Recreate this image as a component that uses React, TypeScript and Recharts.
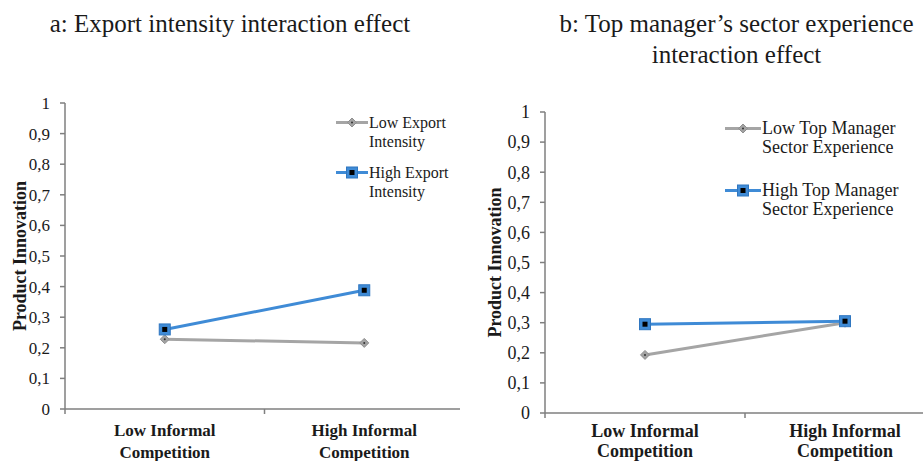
import React from 'react';
import { LineChart, Line, XAxis, YAxis, Legend } from 'recharts';

// categories on the x axis, shared by both panels
const categories = ['Low Informal Competition', 'High Informal Competition'];
const yTicks = [0, 0.1, 0.2, 0.3, 0.4, 0.5, 0.6, 0.7, 0.8, 0.9, 1];
// integer ticks are the small category separators, the halves carry the labels
const xTicks = [0, 0.5, 1, 1.5, 2];

// panel a
const exportLow = [0.228, 0.216];
const exportHigh = [0.26, 0.388];
const exportNames = ['Low Export Intensity', 'High Export Intensity'];
const titleA = ['a: Export intensity interaction effect'];

// panel b
const managerLow = [0.193, 0.3];
const managerHigh = [0.295, 0.305];
const managerNames = ['Low Top Manager Sector Experience', 'High Top Manager Sector Experience'];
const titleB = ['b: Top manager\u2019s sector experience', 'interaction effect'];

const yTitle = 'Product Innovation';

const FONT = 'Liberation Serif, DejaVu Serif, serif';
const AXIS = '#7f7f7f';
const TEXT = '#1a1a1a';
const GRAY = '#a5a5a5';
const BLUE = '#3f8bd6';

const fmt = (v: number) => String(v).replace('.', ',');

const splitLabel = (s: string) => {
  const i = s.lastIndexOf(' ');
  return [s.slice(0, i), s.slice(i + 1)];
};

const Diamond = (props: any) => {
  const { cx, cy } = props;
  if (cx == null || cy == null) return null;
  const r = 4.5;
  return (
    <g>
      <path d={`M${cx},${cy - r}L${cx + r},${cy}L${cx},${cy + r}L${cx - r},${cy}Z`} fill="#a3a3a3" stroke="#8f8f8f" strokeWidth={1} />
      <circle cx={cx} cy={cy} r={1} fill="#333" />
    </g>
  );
};

const Square = (props: any) => {
  const { cx, cy } = props;
  if (cx == null || cy == null) return null;
  return (
    <g>
      <rect x={cx - 5.5} y={cy - 5.5} width={11} height={11} fill={BLUE} stroke="#2f76c0" strokeWidth={1} />
      <rect x={cx - 2.5} y={cy - 2.5} width={5} height={5} fill="#000" />
    </g>
  );
};

type Cfg = {
  chartWidth: number;
  boxWidth: number;
  left: number;
  titlePad: number;
  top: number;
  yAxisWidth: number;
  right: number;
  xHeight: number;
  tickFont: number;
  xFont: number;
  xLine1: number;
  xLine2: number;
  yTitleX: number;
  legendLeft: number;
  legendTop: number;
  legendFont: number;
  legendLine: number;
  legendGap: number;
  legendIcon: number;
  legendTextWidth: number;
};

const XTick = (props: any) => {
  const { x, y, payload, cfg } = props;
  const v = payload.value as number;
  if (Number.isInteger(v)) {
    return <line x1={x} x2={x} y1={y} y2={y + 5} stroke={AXIS} strokeWidth={1.5} />;
  }
  const lines = splitLabel(categories[Math.floor(v)]);
  return (
    <g>
      <text x={x} y={y + cfg.xLine1} textAnchor="middle" fontFamily={FONT} fontWeight="bold" fontSize={cfg.xFont} fill={TEXT}>
        {lines[0]}
      </text>
      <text x={x} y={y + cfg.xLine2} textAnchor="middle" fontFamily={FONT} fontWeight="bold" fontSize={cfg.xFont} fill={TEXT}>
        {lines[1]}
      </text>
    </g>
  );
};

function Panel({ low, high, names, title, cfg }: { low: number[]; high: number[]; names: string[]; title: string[]; cfg: Cfg }) {
  const data = categories.map((c, i) => ({ pos: i + 0.5, category: c, low: low[i], high: high[i] }));

  const renderLegend = (props: any) => {
    const payload = props.payload || [];
    const w = cfg.legendIcon;
    const h = cfg.legendLine;
    return (
      <div style={{ fontFamily: FONT, fontSize: cfg.legendFont, color: TEXT, lineHeight: `${h}px` }}>
        {payload.map((entry: any, i: number) => (
          <div key={i} style={{ display: 'flex', alignItems: 'flex-start', marginBottom: i < payload.length - 1 ? cfg.legendGap : 0 }}>
            <svg width={w} height={h} style={{ flex: 'none' }}>
              <line x1={0} x2={w} y1={h / 2} y2={h / 2} stroke={entry.color} strokeWidth={3} />
              {entry.dataKey === 'low' ? <Diamond cx={w / 2} cy={h / 2} /> : <Square cx={w / 2} cy={h / 2} />}
            </svg>
            <div style={{ width: cfg.legendTextWidth, paddingLeft: 1 }}>{entry.value}</div>
          </div>
        ))}
      </div>
    );
  };

  const renderYTitle = (props: any) => {
    const vb = props.viewBox || {};
    const x = vb.x + cfg.yTitleX;
    const y = vb.y + vb.height / 2;
    return (
      <text x={x} y={y} transform={`rotate(-90 ${x} ${y})`} textAnchor="middle" dominantBaseline="central" fontFamily={FONT} fontWeight="bold" fontSize={18} fill={TEXT}>
        {yTitle}
      </text>
    );
  };

  return (
    <div style={{ position: 'absolute', left: cfg.left, top: 0, width: cfg.boxWidth, height: 461, overflow: 'hidden' }}>
      <div
        style={{
          position: 'absolute',
          left: 0,
          top: 8,
          width: '100%',
          textAlign: 'center',
          fontFamily: FONT,
          fontSize: 25,
          lineHeight: '31px',
          color: TEXT,
          paddingLeft: cfg.titlePad,
          boxSizing: 'border-box',
        }}
      >
        {title.map((t, i) => (
          <div key={i}>{t}</div>
        ))}
      </div>
      <LineChart width={cfg.chartWidth} height={461} data={data} margin={{ top: cfg.top, right: cfg.right, left: 0, bottom: 0 }}>
        <XAxis
          type="number"
          dataKey="pos"
          domain={[0, categories.length]}
          ticks={xTicks}
          interval={0}
          tickLine={false}
          tickSize={0}
          tickMargin={0}
          height={cfg.xHeight}
          axisLine={{ stroke: AXIS, strokeWidth: 1.5 }}
          tick={<XTick cfg={cfg} />}
        />
        <YAxis
          type="number"
          domain={[0, 1]}
          ticks={yTicks}
          interval={0}
          width={cfg.yAxisWidth}
          tickFormatter={fmt}
          tickSize={5}
          tickMargin={10}
          tickLine={{ stroke: AXIS, strokeWidth: 1.5 }}
          axisLine={{ stroke: AXIS, strokeWidth: 1.5 }}
          tick={{ fontFamily: FONT, fontSize: cfg.tickFont, fill: TEXT }}
          label={{ content: renderYTitle }}
        />
        <Legend
          layout="vertical"
          align="center"
          verticalAlign="middle"
          content={renderLegend}
          itemSorter={(item: any) => names.indexOf(item.value)}
          wrapperStyle={{ left: cfg.legendLeft, top: cfg.legendTop, width: 'auto' }}
        />
        <Line
          type="linear"
          dataKey="low"
          name={names[0]}
          stroke={GRAY}
          strokeWidth={3}
          dot={<Diamond />}
          activeDot={false}
          isAnimationActive={false}
        />
        <Line
          type="linear"
          dataKey="high"
          name={names[1]}
          stroke={BLUE}
          strokeWidth={3}
          dot={<Square />}
          activeDot={false}
          isAnimationActive={false}
        />
      </LineChart>
    </div>
  );
}

const cfgA: Cfg = {
  chartWidth: 470,
  boxWidth: 460,
  left: 0,
  titlePad: 0,
  top: 103,
  yAxisWidth: 65,
  right: 6,
  xHeight: 52,
  tickFont: 17,
  xFont: 17,
  xLine1: 27,
  xLine2: 49,
  yTitleX: 20,
  legendLeft: 336,
  legendTop: 113,
  legendFont: 16,
  legendLine: 19,
  legendGap: 12,
  legendIcon: 32,
  legendTextWidth: 95,
};

const cfgB: Cfg = {
  chartWidth: 490,
  boxWidth: 463,
  left: 460,
  titlePad: 90,
  top: 112,
  yAxisWidth: 85,
  right: 5,
  xHeight: 48,
  tickFont: 18,
  xFont: 18,
  xLine1: 24,
  xLine2: 44,
  yTitleX: 35,
  legendLeft: 265,
  legendTop: 119,
  legendFont: 18,
  legendLine: 19,
  legendGap: 24,
  legendIcon: 36,
  legendTextWidth: 150,
};

export default function App() {
  return (
    <div style={{ position: 'absolute', left: 0, top: 0, width: 923, height: 461, overflow: 'hidden', background: '#fff' }}>
      <Panel low={exportLow} high={exportHigh} names={exportNames} title={titleA} cfg={cfgA} />
      <Panel low={managerLow} high={managerHigh} names={managerNames} title={titleB} cfg={cfgB} />
    </div>
  );
}
